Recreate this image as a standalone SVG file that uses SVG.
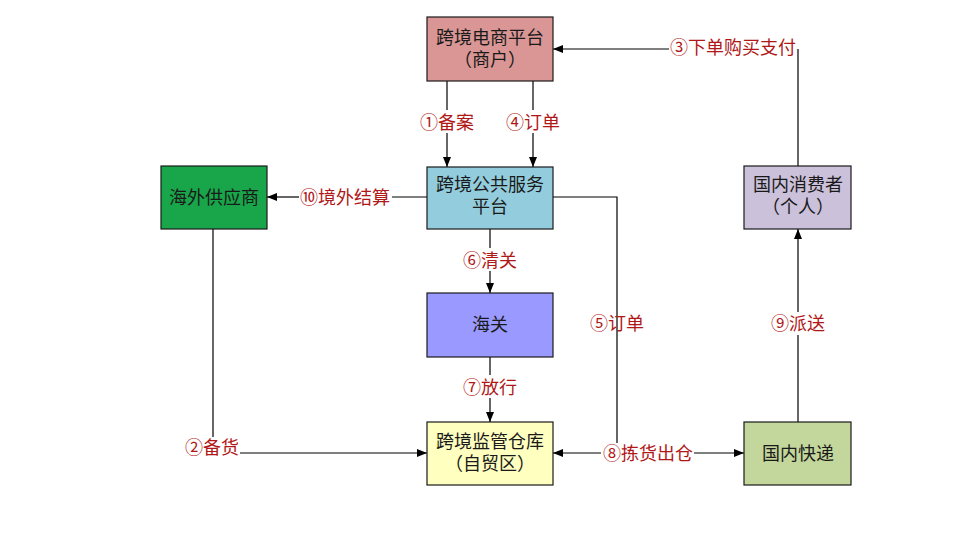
<svg xmlns="http://www.w3.org/2000/svg" width="971" height="533" viewBox="0 0 971 533">
<style>
.box{stroke:#1a1a1a;stroke-width:1.2}
.nt{font-family:"Liberation Sans","Noto Sans CJK SC",sans-serif;font-size:18px;fill:#1a1a1a;text-anchor:middle}
.lb{font-family:"Noto Sans CJK SC",sans-serif;font-size:18px;fill:#b01818;text-anchor:middle}
.ln{stroke:#000;stroke-width:1.2;fill:none}
</style>
<defs>
<marker id="ah" markerUnits="userSpaceOnUse" markerWidth="10" markerHeight="8" refX="10" refY="4" orient="auto">
<path d="M0,0 L10,4 L0,8 z" fill="#000"/>
</marker>
</defs>
<rect width="971" height="533" fill="#fff"/>
<g id="connectors">
<!-- 1 备案 -->
<path class="ln" d="M447,81 V110"/>
<path class="ln" d="M447,133 V167" marker-end="url(#ah)"/>
<text class="lb" x="447" y="129">①备案</text>
<!-- 4 订单 -->
<path class="ln" d="M533,81 V110"/>
<path class="ln" d="M533,133 V167" marker-end="url(#ah)"/>
<text class="lb" x="533" y="129">④订单</text>
<!-- 10 境外结算 -->
<path class="ln" d="M427,197 H392"/>
<path class="ln" d="M299,197 H267" marker-end="url(#ah)"/>
<text class="lb" x="345" y="204">⑩境外结算</text>
<!-- 6 清关 -->
<path class="ln" d="M490,229 V248"/>
<path class="ln" d="M490,271 V293" marker-end="url(#ah)"/>
<text class="lb" x="490" y="267">⑥清关</text>
<!-- 7 放行 -->
<path class="ln" d="M490,357 V375"/>
<path class="ln" d="M490,398 V422" marker-end="url(#ah)"/>
<text class="lb" x="490" y="394">⑦放行</text>
<!-- 5 订单 -->
<path class="ln" d="M553,197 H617 V443"/>
<text class="lb" x="617" y="330">⑤订单</text>
<!-- 8 拣货出仓 -->
<path class="ln" d="M601,453 H553" marker-end="url(#ah)"/>
<path class="ln" d="M694,453 H744" marker-end="url(#ah)"/>
<text class="lb" x="648" y="460">⑧拣货出仓</text>
<!-- 2 备货 -->
<path class="ln" d="M213,229 V437"/>
<path class="ln" d="M240,453 H427" marker-end="url(#ah)"/>
<text class="lb" x="212" y="454">②备货</text>
<!-- 9 派送 -->
<path class="ln" d="M798,422 V335"/>
<path class="ln" d="M798,312 V229" marker-end="url(#ah)"/>
<text class="lb" x="798" y="330">⑨派送</text>
<!-- 3 下单购买支付 -->
<path class="ln" d="M798,166 V49"/>
<path class="ln" d="M669,49 H553" marker-end="url(#ah)"/>
<text class="lb" x="733" y="54">③下单购买支付</text>
</g>
<g id="ecommerce">
<rect class="box" x="427" y="17" width="126" height="64" fill="#d99694"/>
<text class="nt" x="490" y="44">跨境电商平台</text>
<text class="nt" x="490" y="66">（商户）</text>
</g>
<g id="public-service">
<rect class="box" x="427" y="167" width="126" height="62" fill="#93cddd"/>
<text class="nt" x="490" y="191">跨境公共服务</text>
<text class="nt" x="490" y="213">平台</text>
</g>
<g id="supplier">
<rect class="box" x="161" y="166" width="106" height="63" fill="#19a64b"/>
<text class="nt" x="214" y="204">海外供应商</text>
</g>
<g id="customs">
<rect class="box" x="427" y="293" width="126" height="64" fill="#9999ff"/>
<text class="nt" x="490" y="331">海关</text>
</g>
<g id="warehouse">
<rect class="box" x="427" y="422" width="126" height="63" fill="#ffffc0"/>
<text class="nt" x="490" y="448">跨境监管仓库</text>
<text class="nt" x="490" y="470">（自贸区）</text>
</g>
<g id="express">
<rect class="box" x="744" y="422" width="107" height="63" fill="#c3d69b"/>
<text class="nt" x="798" y="460">国内快递</text>
</g>
<g id="consumer">
<rect class="box" x="744" y="166" width="107" height="63" fill="#ccc1da"/>
<text class="nt" x="798" y="191">国内消费者</text>
<text class="nt" x="798" y="213">（个人）</text>
</g>
</svg>
